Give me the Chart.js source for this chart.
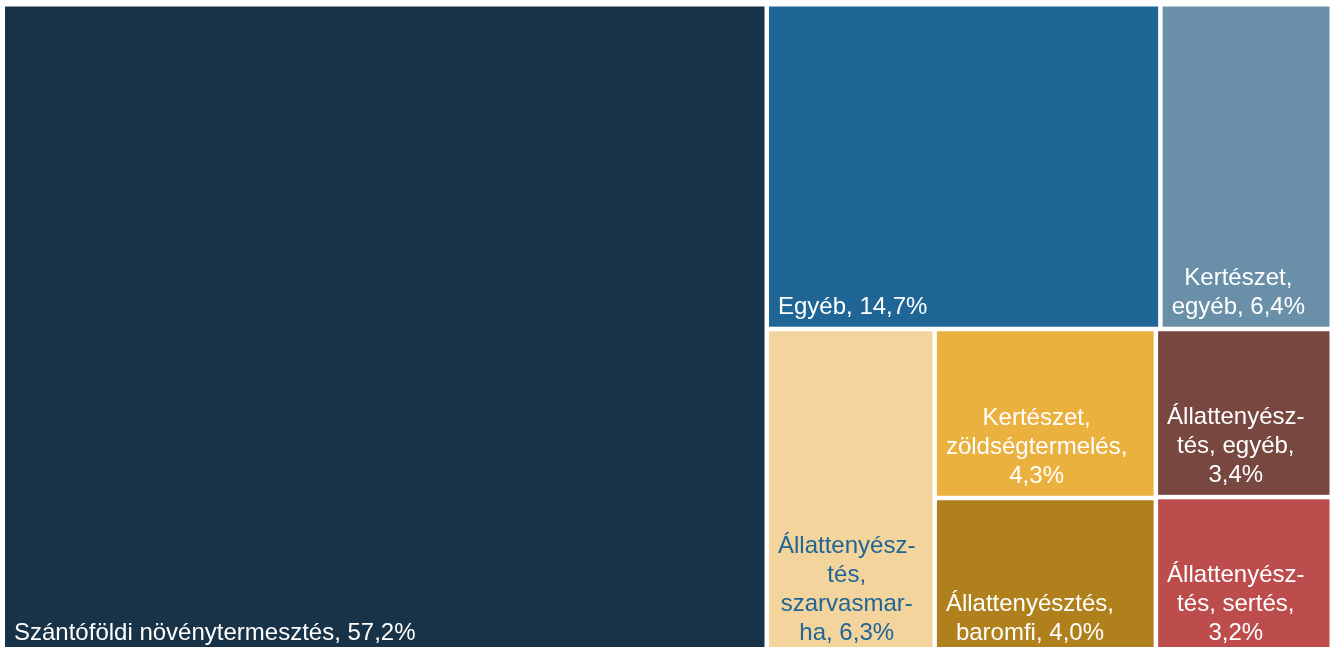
<!DOCTYPE html>
<html>
<head>
<meta charset="utf-8">
<script src="https://cdn.jsdelivr.net/npm/chart.js@4.4.0/dist/chart.umd.min.js"></script>
<style>
html,body{margin:0;padding:0;background:#ffffff;overflow:hidden;}
#wrap{position:relative;width:1335px;height:657px;}
</style>
</head>
<body>
<div id="wrap"><canvas id="c"></canvas></div>
<script>
// ---- data ----
const categories = [
  'Szántóföldi növénytermesztés',
  'Egyéb',
  'Kertészet, egyéb',
  'Állattenyésztés, szarvasmarha',
  'Kertészet, zöldségtermelés',
  'Állattenyésztés, baromfi',
  'Állattenyésztés, egyéb',
  'Állattenyésztés, sertés'
];
const values = [57.2, 14.7, 6.4, 6.3, 4.3, 4.0, 3.4, 3.2];
const labelLines = [
  ['Szántóföldi növénytermesztés, 57,2%'],
  ['Egyéb, 14,7%'],
  ['Kertészet,', 'egyéb, 6,4%'],
  ['Állattenyész-', 'tés,', 'szarvasmar-', 'ha, 6,3%'],
  ['Kertészet,', 'zöldségtermelés,', '4,3%'],
  ['Állattenyésztés,', 'baromfi, 4,0%'],
  ['Állattenyész-', 'tés, egyéb,', '3,4%'],
  ['Állattenyész-', 'tés, sertés,', '3,2%']
];
const colors = ['#183247', '#1F6596', '#6A8FA9', '#F2D49C', '#EAB13F', '#B0801D', '#774740', '#BC4D4C'];
const textColors = ['#ffffff', '#ffffff', '#ffffff', '#1F6596', '#ffffff', '#ffffff', '#ffffff', '#ffffff'];

// ---- squarified treemap layout (in proportions of the chart area) ----
function squarify(vals, W, H) {
  const total = vals.reduce((a, b) => a + b, 0);
  const areas = vals.map(v => v / total * W * H);
  const rects = [];
  let x = 0, y = 0, w = W, h = H, i = 0;
  while (i < areas.length) {
    const side = Math.min(w, h);
    const worst = r => {
      const s = r.reduce((a, b) => a + b, 0);
      const mx = Math.max(...r), mn = Math.min(...r);
      return Math.max(side * side * mx / (s * s), s * s / (side * side * mn));
    };
    let row = [areas[i]], j = i + 1;
    while (j < areas.length && worst(row.concat(areas[j])) <= worst(row)) { row.push(areas[j]); j++; }
    const s = row.reduce((a, b) => a + b, 0);
    if (w >= h) {
      const tw = s / h; let yy = y;
      row.forEach(a => { const hh = a / tw; rects.push({x: x, y: yy, w: tw, h: hh}); yy += hh; });
      x += tw; w -= tw;
    } else {
      const th = s / w; let xx = x;
      row.forEach(a => { const ww = a / th; rects.push({x: xx, y: y, w: ww, h: th}); xx += ww; });
      y += th; h -= th;
    }
    i = j;
  }
  return rects.map(r => ({x0: r.x / W, x1: (r.x + r.w) / W, y0: r.y / H, y1: (r.y + r.h) / H}));
}

const treemapPlugin = {
  id: 'treemapCells',
  afterDatasetsDraw(chart) {
    const ctx = chart.ctx;
    const ca = chart.chartArea;
    const xs = chart.scales.x, ys = chart.scales.y;
    const cells = squarify(values, ca.right - ca.left, ca.bottom - ca.top);
    const gap = 2.25;
    const fontSize = 24, lineH = 29;
    ctx.save();
    cells.forEach((c, k) => {
      const l = xs.getPixelForValue(c.x0) + gap;
      const r = xs.getPixelForValue(c.x1) - gap;
      const t = ys.getPixelForValue(c.y0) + gap;
      const b = ys.getPixelForValue(c.y1) - gap;
      ctx.fillStyle = colors[k];
      ctx.fillRect(l, t, r - l, b - t);
      // label
      ctx.font = fontSize + 'px "Liberation Sans", Arial, sans-serif';
      ctx.fillStyle = textColors[k];
      ctx.textAlign = 'center';
      ctx.textBaseline = 'alphabetic';
      const lines = labelLines[k];
      const maxW = Math.max(...lines.map(s => ctx.measureText(s).width));
      const cx = l + 9 + maxW / 2;
      const lastBase = b - 13;
      lines.forEach((s, n) => {
        ctx.fillText(s, cx, lastBase - (lines.length - 1 - n) * lineH);
      });
    });
    ctx.restore();
  }
};

new Chart(document.getElementById('c'), {
  type: 'scatter',
  data: {
    labels: categories,
    datasets: [{label: 'Részesedés', data: [], pointRadius: 0}]
  },
  options: {
    responsive: true,
    maintainAspectRatio: false,
    animation: false,
    layout: {padding: {left: 2.75, right: 3.25, top: 4.25, bottom: 1.75}},
    plugins: {legend: {display: false}, tooltip: {enabled: false}},
    scales: {
      x: {type: 'linear', min: 0, max: 1, display: false},
      y: {type: 'linear', min: 0, max: 1, reverse: true, display: false}
    }
  },
  plugins: [treemapPlugin]
});
</script>
</body>
</html>
